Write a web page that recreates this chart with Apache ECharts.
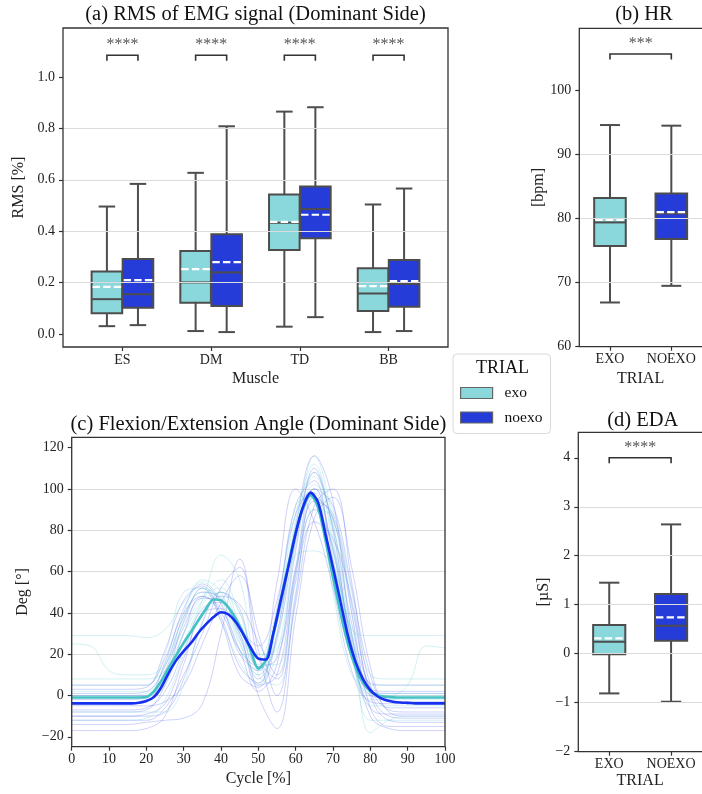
<!DOCTYPE html>
<html><head><meta charset="utf-8">
<script src="https://cdn.jsdelivr.net/npm/echarts@6/dist/echarts.min.js"></script>
<style>html,body{margin:0;padding:0;background:#fff}#c{width:702px;height:794px}</style>
</head><body><div id="c"></div>
<script>
// ---------------- data ----------------
const muscles = ['ES', 'DM', 'TD', 'BB'];
// each row: [min, q1, median, q3, max, mean]
const rmsExo = [
  [0.031, 0.081, 0.136, 0.243, 0.496, 0.184],
  [0.012, 0.122, 0.201, 0.323, 0.627, 0.253],
  [0.029, 0.327, 0.433, 0.543, 0.865, 0.436],
  [0.008, 0.090, 0.158, 0.256, 0.504, 0.187]
];
const rmsNoexo = [
  [0.035, 0.103, 0.155, 0.292, 0.584, 0.210],
  [0.008, 0.109, 0.240, 0.388, 0.808, 0.280],
  [0.066, 0.373, 0.486, 0.574, 0.882, 0.464],
  [0.012, 0.106, 0.195, 0.288, 0.566, 0.206]
];
const rmsSig = ['****', '****', '****', '****'];
const rmsSigY = 1.084;
const trials = ['EXO', 'NOEXO'];
const hrExo = [66.9, 75.7, 79.4, 83.2, 94.6, 79.8];
const hrNoexo = [69.5, 76.8, 80.8, 83.9, 94.5, 81.0];
const hrSig = ['***'];
const hrSigY = 105.7;
const edaExo = [-0.81, -0.01, 0.245, 0.586, 1.45, 0.314];
const edaNoexo = [-0.98, 0.265, 0.571, 1.218, 2.64, 0.743];
const edaSig = ['****'];
const edaSigY = 4.0;

const cycleMean = [0,2,4,6,8,10,12,14,16,18,20,22,24,26,28,30,32,34,36,38,40,42,44,46,48,50,52,54,56,58,60,62,64,66,68,70,72,74,76,78,80,82,84,86,88,90,92,94,96,98,100];
const angleMeanExo = [-1,-1,-1,-1,-1,-1,-1,-1,-1,-1,-0.8,2,7,13.5,19.5,25.5,31,36.5,42,46.5,46,42.5,37,30,21.5,13,17,30,46.5,63,79,91,97,91,75,57,40,25,14,6.5,2,0,-0.6,-0.9,-1,-1,-1,-1,-1,-1,-1];
const angleMeanNoexo = [-3.8,-3.8,-3.8,-3.8,-3.8,-3.8,-3.8,-3.8,-3.8,-3.5,-2.7,-0.8,4,11,17,21.5,25.5,30.5,34.5,38,40.3,39.2,35.5,29.5,23,17.8,17.4,30,46,62,78.5,91.5,98.2,93.5,78,62,45.5,29,16.5,8,2.6,-0.5,-2.2,-3,-3.4,-3.6,-3.8,-3.8,-3.8,-3.8,-3.8];

const cycleTrace = [0,5,10,15,20,25,30,35,40,45,50,55,60,65,70,75,80,85,90,95,100];
const tracesExo = [
  [29,29,29,29,28,32,45,55,45,22,12,35,80,100,70,32,29,29,29,29,29],
  [25,24,12,10,10,15,35,52,46,25,10,30,85,112,76,20,0,0,5,24,23],
  [-1,-1,-1,-1,0,10,40,56,50,26,10,26,82,106,80,20,-2,-2,-2,-2,-2],
  [5,5,5,5,5,20,50,52,36,16,5,36,92,96,50,10,5,5,5,5,5],
  [-8,-8,-8,-8,-8,-8,5,36,50,40,15,15,62,96,86,40,-18,-12,-10,-10,-10],
  [8,8,8,8,8,12,30,46,56,40,20,22,72,102,90,50,10,8,8,8,8],
  [-4,-4,-4,-4,-3,5,26,46,68,56,10,5,50,90,86,30,-5,-5,-5,-5,-5],
  [2,2,2,2,2,15,38,50,48,30,14,38,88,108,72,18,1,1,1,1,1],
  [0,0,0,0,1,8,30,48,52,35,18,40,68,70,62,30,2,0,0,0,0],
  [-12,-12,-12,-12,-11,-2,20,44,50,30,6,20,75,116,84,26,-12,-12,-12,-12,-12]
];
const tracesNoexo = [
  [-4,-4,-4,-4,-3,12,33,47,46,28,8,28,75,108,82,35,4,-2,-3,-3,-3],
  [-10,-10,-10,-10,-10,-8,8,35,50,42,14,18,62,100,92,52,10,-8,-10,-10,-10],
  [3,3,3,3,4,22,46,53,38,14,6,42,92,104,58,18,3,2,2,2,2],
  [-14,-14,-14,-14,-13,-12,-11,-4,30,66,22,-8,48,96,86,40,-6,-15,-15,-15,-15],
  [-7,-7,-7,-7,-6,2,22,42,45,34,0,-16,38,86,96,62,14,-7,-8,-8,-8],
  [0,0,0,0,0,8,36,52,36,10,4,30,82,116,94,30,0,-1,-1,-1,-1],
  [-12,-12,-12,-12,-12,-6,10,30,52,62,18,8,55,84,76,46,0,-12,-13,-13,-13],
  [-2,-2,-2,-2,-1,16,42,54,44,20,12,55,100,84,52,12,-3,-4,-4,-4,-4],
  [-17,-17,-17,-17,-16,-10,15,40,42,30,5,10,60,90,72,25,-10,-16,-17,-17,-17],
  [5,5,5,5,5,18,40,48,40,22,14,35,78,98,70,28,6,5,5,5,5],
  [-5,-5,-5,-5,-5,-3,5,25,45,58,30,0,45,92,100,55,5,-6,-6,-6,-6],
  [-8,-8,-8,-8,-7,5,30,48,42,22,2,15,70,110,80,22,-6,-9,-9,-9,-9],
  [1,1,1,1,2,14,38,50,47,33,24,46,88,100,66,20,2,1,1,1,1],
  [-10,-10,-10,-10,-9,-4,18,40,48,44,26,10,58,94,88,44,2,-10,-11,-11,-11]
];

const rmsTicks = [0, 0.2, 0.4, 0.6, 0.8, 1.0];
const hrTicks = [60, 70, 80, 90, 100];
const angleTicks = [-20, 0, 20, 40, 60, 80, 100, 120];
const cycleTicks = [0, 10, 20, 30, 40, 50, 60, 70, 80, 90, 100];
const edaTicks = [-2, -1, 0, 1, 2, 3, 4];

// ---------------- style / layout ----------------
const FONT = "'Liberation Serif','DejaVu Serif',serif";
const EXO_FILL = '#8ad7dc';
const NOEXO_FILL = '#263cd9';
const EDGE = '#4d4d4d';
const GRIDC = '#dcdcdc';
const TXT = '#222';
const L = {
  a: {left: 63, top: 28, width: 385, height: 319},
  b: {left: 579.3, top: 28.3, width: 130, height: 318.4},
  c: {left: 71.7, top: 437.3, width: 373.3, height: 309.4},
  d: {left: 578.3, top: 432.3, width: 129, height: 319.4}
};
const minus = v => (v < 0 ? '\u2212' + Math.abs(v) : String(v));

function boxRenderer(offset, widthU, capFrac, fill) {
  return function (params, api) {
    const xv = api.value(0) + offset;
    const bw = api.size([widthU, 0])[0];
    const cx = api.coord([xv, api.value(3)])[0];
    const y = k => api.coord([xv, api.value(k)])[1];
    const yMin = y(1), yQ1 = y(2), yMed = y(3), yQ3 = y(4), yMax = y(5), yMean = y(6);
    const xl = cx - bw / 2, xr = cx + bw / 2, cw = bw * capFrac / 2;
    const es = () => ({stroke: EDGE, lineWidth: 2});
    return {type: 'group', children: [
      {type: 'line', shape: {x1: cx, y1: yQ1, x2: cx, y2: yMin}, style: es()},
      {type: 'line', shape: {x1: cx, y1: yQ3, x2: cx, y2: yMax}, style: es()},
      {type: 'line', shape: {x1: cx - cw, y1: yMin, x2: cx + cw, y2: yMin}, style: es()},
      {type: 'line', shape: {x1: cx - cw, y1: yMax, x2: cx + cw, y2: yMax}, style: es()},
      {type: 'rect', shape: {x: xl, y: yQ3, width: bw, height: yQ1 - yQ3}, style: {fill: fill, stroke: EDGE, lineWidth: 2}},
      {type: 'line', shape: {x1: xl, y1: yMed, x2: xr, y2: yMed}, style: es()},
      {type: 'line', shape: {x1: xl + 1, y1: yMean, x2: xr - 1, y2: yMean}, style: {stroke: '#fff', lineWidth: 2.2, lineDash: [7.4, 3.2]}}
    ]};
  };
}
function sigRenderer(half, labels) {
  return function (params, api) {
    const x = api.value(0), yv = api.value(1);
    const p1 = api.coord([x - half, yv]), p2 = api.coord([x + half, yv]);
    const drop = 5.5;
    return {type: 'group', children: [
      {type: 'polyline', shape: {points: [[p1[0], p1[1] + drop], [p1[0], p1[1]], [p2[0], p2[1]], [p2[0], p2[1] + drop]]},
        style: {stroke: '#333', lineWidth: 1.6, fill: null}},
      {type: 'text', x: (p1[0] + p2[0]) / 2, y: p1[1] - 2,
        style: {text: labels[params.dataIndex], fill: '#555', font: '16px ' + FONT, textAlign: 'center', textVerticalAlign: 'bottom'}}
    ]};
  };
}
const rows = (arr) => arr.map((r, i) => [i].concat(r));

function xCat(gridIndex, min, max, ticks, names, name, nameGap, split) {
  return {
    type: 'value', gridIndex, min, max, minInterval: 1, maxInterval: 1, z: 3,
    axisLine: {show: false, onZero: false},
    axisTick: {show: true, customValues: ticks, length: 4, lineStyle: {color: '#333', width: 1.2}},
    axisLabel: {customValues: ticks, formatter: v => names[Math.round(v)], margin: 6, fontFamily: FONT, fontSize: 14, color: TXT},
    splitLine: {show: split, showMinLine: false, showMaxLine: false, lineStyle: {color: GRIDC, width: 1}},
    name, nameLocation: 'middle', nameGap, nameTextStyle: {fontFamily: FONT, fontSize: 16, color: TXT}
  };
}
function yVal(gridIndex, min, max, step, ticks, fmt, name, nameGap, z) {
  return {
    type: 'value', gridIndex, min, max, minInterval: step, maxInterval: step, z,
    axisLine: {show: false, onZero: false},
    axisTick: {show: true, customValues: ticks, length: 4, lineStyle: {color: '#333', width: 1.2}},
    axisLabel: {customValues: ticks, formatter: fmt, margin: 8, fontFamily: FONT, fontSize: 14, color: TXT},
    splitLine: {show: true, showMinLine: false, showMaxLine: false, lineStyle: {color: GRIDC, width: 1.2}},
    name, nameLocation: 'middle', nameGap, nameTextStyle: {fontFamily: FONT, fontSize: 16, color: TXT}
  };
}

const series = [
  // (a)
  {type: 'custom', name: 'exo', xAxisIndex: 0, yAxisIndex: 0, data: rows(rmsExo), encode: {x: 0, y: [1, 2, 3, 4, 5]},
    itemStyle: {color: EXO_FILL}, renderItem: boxRenderer(-0.175, 0.345, 0.54, EXO_FILL), z: 2},
  {type: 'custom', name: 'noexo', xAxisIndex: 0, yAxisIndex: 0, data: rows(rmsNoexo), encode: {x: 0, y: [1, 2, 3, 4, 5]},
    itemStyle: {color: NOEXO_FILL}, renderItem: boxRenderer(0.175, 0.345, 0.54, NOEXO_FILL), z: 2},
  {type: 'custom', name: 'sigA', xAxisIndex: 0, yAxisIndex: 0, data: rmsSig.map((s, i) => [i, rmsSigY]), encode: {x: 0, y: 1},
    renderItem: sigRenderer(0.175, rmsSig), z: 5},
  // (b)
  {type: 'custom', name: 'exo', xAxisIndex: 1, yAxisIndex: 1, data: [[0].concat(hrExo)], encode: {x: 0, y: [1, 2, 3, 4, 5]},
    itemStyle: {color: EXO_FILL}, renderItem: boxRenderer(0, 0.515, 0.63, EXO_FILL), z: 2},
  {type: 'custom', name: 'noexo', xAxisIndex: 1, yAxisIndex: 1, data: [[1].concat(hrNoexo)], encode: {x: 0, y: [1, 2, 3, 4, 5]},
    itemStyle: {color: NOEXO_FILL}, renderItem: boxRenderer(0, 0.515, 0.63, NOEXO_FILL), z: 2},
  {type: 'custom', name: 'sigB', xAxisIndex: 1, yAxisIndex: 1, data: [[0.5, hrSigY]], encode: {x: 0, y: 1},
    renderItem: sigRenderer(0.5, hrSig), z: 5},
  // (d)
  {type: 'custom', name: 'exo', xAxisIndex: 3, yAxisIndex: 3, data: [[0].concat(edaExo)], encode: {x: 0, y: [1, 2, 3, 4, 5]},
    itemStyle: {color: EXO_FILL}, renderItem: boxRenderer(0, 0.52, 0.63, EXO_FILL), z: 2},
  {type: 'custom', name: 'noexo', xAxisIndex: 3, yAxisIndex: 3, data: [[1].concat(edaNoexo)], encode: {x: 0, y: [1, 2, 3, 4, 5]},
    itemStyle: {color: NOEXO_FILL}, renderItem: boxRenderer(0, 0.52, 0.63, NOEXO_FILL), z: 2},
  {type: 'custom', name: 'sigD', xAxisIndex: 3, yAxisIndex: 3, data: [[0.5, edaSigY]], encode: {x: 0, y: 1},
    renderItem: sigRenderer(0.5, edaSig), z: 5}
];
// (c) traces
tracesNoexo.forEach((t) => series.push({
  type: 'line', name: 'noexo trace', xAxisIndex: 2, yAxisIndex: 2, silent: true, symbol: 'none', smooth: 0.4,
  data: t.map((v, i) => [cycleTrace[i], v]), lineStyle: {color: 'rgba(55,75,235,0.28)', width: 0.9}, z: 2
}));
tracesExo.forEach((t) => series.push({
  type: 'line', name: 'exo trace', xAxisIndex: 2, yAxisIndex: 2, silent: true, symbol: 'none', smooth: 0.4,
  data: t.map((v, i) => [cycleTrace[i], v]), lineStyle: {color: 'rgba(95,205,215,0.3)', width: 0.9}, z: 2
}));
series.push({type: 'line', name: 'exo mean', xAxisIndex: 2, yAxisIndex: 2, silent: true, symbol: 'none', smooth: 0.3,
  data: angleMeanExo.map((v, i) => [cycleMean[i], v]), lineStyle: {color: '#45c2c4', width: 2.6}, z: 3});
series.push({type: 'line', name: 'noexo mean', xAxisIndex: 2, yAxisIndex: 2, silent: true, symbol: 'none', smooth: 0.3,
  data: angleMeanNoexo.map((v, i) => [cycleMean[i], v]), lineStyle: {color: '#1530ee', width: 2.6}, z: 4});

const frame = (g) => ({type: 'rect', z: 100, silent: true,
  shape: {x: g.left, y: g.top, width: g.width, height: g.height},
  style: {fill: null, stroke: '#333', lineWidth: 1.3}});
const title = (text, x, y, size) => ({type: 'text', z: 100, x, y, silent: true,
  style: {text, font: size + 'px ' + FONT, fill: '#111', textAlign: 'center', textVerticalAlign: 'middle'}});

const option = {
  animation: false,
  backgroundColor: '#fff',
  grid: [L.a, L.b, L.c, L.d].map(g => Object.assign({containLabel: false}, g)),
  xAxis: [
    xCat(0, -0.67, 3.67, [0, 1, 2, 3], muscles, 'Muscle', 24, false),
    xCat(1, -0.5, 1.5, [0, 1], trials, 'TRIAL', 24, true),
    {type: 'value', gridIndex: 2, min: 0, max: 100, interval: 10,
      axisLine: {show: false, onZero: false},
      axisTick: {show: true, length: 4, lineStyle: {color: '#333', width: 1.2}},
      axisLabel: {customValues: cycleTicks, margin: 6, fontFamily: FONT, fontSize: 14, color: TXT},
      splitLine: {show: false},
      name: 'Cycle [%]', nameLocation: 'middle', nameGap: 24, nameTextStyle: {fontFamily: FONT, fontSize: 16, color: TXT}},
    xCat(3, -0.5, 1.5, [0, 1], trials, 'TRIAL', 21, true)
  ],
  yAxis: [
    yVal(0, -0.05, 1.19, 0.2, rmsTicks, v => v.toFixed(1), 'RMS [%]', 30, 3),
    yVal(1, 60, 109.7, 10, hrTicks, v => String(v), '[bpm]', 31, 3),
    yVal(2, -24.8, 125, 20, angleTicks, minus, 'Deg [°]', 32, 0),
    yVal(3, -2, 4.52, 1, edaTicks, minus, '[µS]', 27, 3)
  ],
  legend: {
    orient: 'vertical', left: 453, top: 354, padding: [31, 8, 8, 7],
    itemWidth: 32, itemHeight: 11, itemGap: 8.5, selectedMode: false,
    backgroundColor: '#fff', borderColor: '#d9d9d9', borderWidth: 1, borderRadius: 4,
    textStyle: {fontFamily: FONT, fontSize: 15.5, color: '#111', padding: [0, 0, 0, 7]},
    itemStyle: {borderColor: '#666', borderWidth: 1.2},
    data: [{name: 'exo', icon: 'rect'}, {name: 'noexo', icon: 'rect'}]
  },
  graphic: [
    frame(L.a), frame(L.b), frame(L.c), frame(L.d),
    title('(a) RMS of EMG signal (Dominant Side)', 255.5, 15, 20.5),
    title('(b) HR', 644, 15, 20.5),
    title('(c) Flexion/Extension Angle (Dominant Side)', 258.4, 424.5, 20.5),
    title('(d) EDA', 642.8, 420.5, 20.5),
    title('TRIAL', 502.5, 368.5, 18)
  ],
  series
};
const chart = echarts.init(document.getElementById('c'), null, {renderer: 'canvas'});
chart.setOption(option);
</script></body></html>
